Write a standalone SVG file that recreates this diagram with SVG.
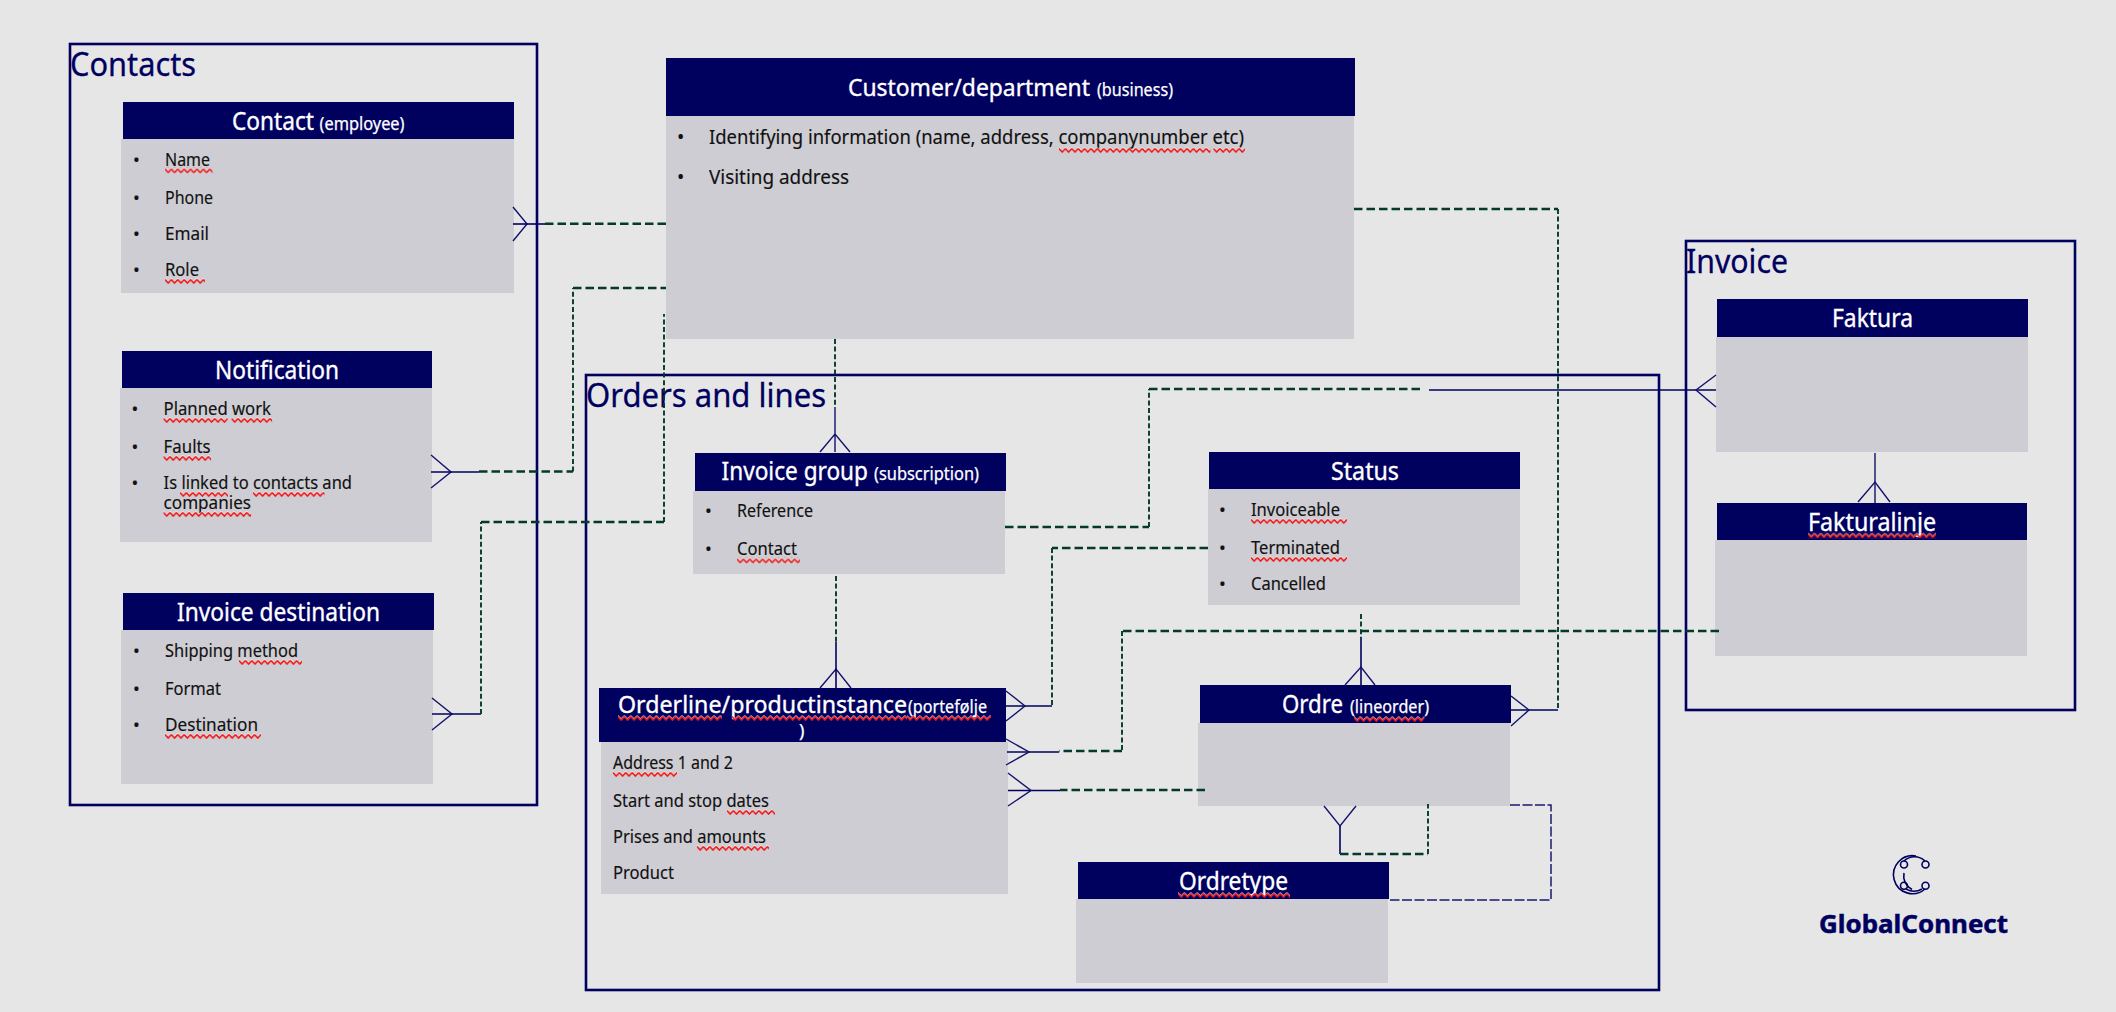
<svg xmlns="http://www.w3.org/2000/svg" width="2116" height="1012" viewBox="0 0 2116 1012">
<style>
text{font-family:"Noto Sans","Liberation Sans",sans-serif}
.frame{fill:none;stroke:#00005f;stroke-width:2.6}
.sec{font-size:33px;fill:#00005f;stroke:#00005f;stroke-width:.3}
.hd{fill:#00005f}
.bd{fill:#cdcdd3}
.h{font-size:25px;fill:#fff;stroke:#fff;stroke-width:.35}
.hn{font-size:23px;fill:#fff;stroke:#fff;stroke-width:.35}
.s{font-size:18px;fill:#fff;stroke:#fff;stroke-width:.25}
.t{font-size:18px;fill:#111;stroke:#111;stroke-width:.15}
.t2{font-size:19.5px;fill:#111;stroke:#111;stroke-width:.15}
.sq{fill:url(#squig)}
.cr{fill:none;stroke:#12126e;stroke-width:1.4}
.so{fill:none;stroke:#00005f;stroke-width:1.6}
.dh{fill:none;stroke:#033a2c;stroke-width:2.4;stroke-dasharray:8.5 4}
.dv{fill:none;stroke:#033a2c;stroke-width:1.9;stroke-dasharray:5 2.6}
.dn{fill:none;stroke:#1a1a70;stroke-width:1.5;stroke-dasharray:10 2.5}
.logo{fill:none;stroke:#00005f;stroke-width:1.6}
</style>
<defs>
<pattern id="squig" patternUnits="userSpaceOnUse" width="6.4" height="6">
<path d="M0 0.6L3.2 4L6.4 0.6" fill="none" stroke="#fff" stroke-width="1.1" opacity=".8"/>
<path d="M0 1.6L3.2 5L6.4 1.6" fill="none" stroke="#ee1c1c" stroke-width="1.7"/>
</pattern>
</defs>
<rect width="2116" height="1012" fill="#e6e6e6"/>

<g id="frame-contacts"><rect class="frame" x="70" y="44" width="467" height="761"/><text class="sec" x="70" y="75.5" textLength="126" lengthAdjust="spacingAndGlyphs">Contacts</text></g>
<g id="frame-orders"><rect class="frame" x="586" y="375" width="1073" height="615"/><text class="sec" x="586" y="406.5" textLength="240" lengthAdjust="spacingAndGlyphs">Orders and lines</text></g>
<g id="frame-invoice"><rect class="frame" x="1686" y="241" width="389" height="469"/><text class="sec" x="1686" y="273" textLength="102" lengthAdjust="spacingAndGlyphs">Invoice</text></g>

<g id="node-contact">
<rect class="bd" x="121" y="139" width="393" height="154"/><rect class="hd" x="123" y="102" width="391" height="37"/>
<text class="h" x="232" y="129.500" textLength="82" lengthAdjust="spacingAndGlyphs">Contact</text><text class="s" x="319.500" y="129.500" textLength="85" lengthAdjust="spacingAndGlyphs">(employee)</text>
<text class="t" x="133" y="165.500">•</text><text class="t" x="165" y="165.500" textLength="45" lengthAdjust="spacingAndGlyphs">Name</text>
<text class="t" x="133" y="204">•</text><text class="t" x="165" y="204" textLength="48" lengthAdjust="spacingAndGlyphs">Phone</text>
<text class="t" x="133" y="240">•</text><text class="t" x="165" y="240" textLength="44" lengthAdjust="spacingAndGlyphs">Email</text>
<text class="t" x="133" y="276">•</text><text class="t" x="165" y="276" textLength="34" lengthAdjust="spacingAndGlyphs">Role</text>
<rect class="sq" transform="translate(165,167.5)" width="47.5" height="6"/>
<rect class="sq" transform="translate(165,278)" width="40" height="6"/>
</g>

<g id="node-notification">
<rect class="bd" x="120" y="388" width="312" height="154"/><rect class="hd" x="122" y="351" width="310" height="37"/>
<text class="h" x="215" y="379" textLength="124" lengthAdjust="spacingAndGlyphs">Notification</text>
<text class="t" x="131.500" y="415">•</text><text class="t" x="163.600" y="415" textLength="107.400" lengthAdjust="spacingAndGlyphs">Planned work</text>
<text class="t" x="131.500" y="453">•</text><text class="t" x="163.600" y="453" textLength="47" lengthAdjust="spacingAndGlyphs">Faults</text>
<text class="t" x="131.500" y="489">•</text><text class="t" x="163.600" y="489" textLength="188.400" lengthAdjust="spacingAndGlyphs">Is linked to contacts and</text>
<text class="t" x="163.600" y="509" textLength="87.400" lengthAdjust="spacingAndGlyphs">companies</text>
<rect class="sq" transform="translate(163.600,417)" width="64" height="6"/>
<rect class="sq" transform="translate(231.600,417)" width="40.500" height="6"/>
<rect class="sq" transform="translate(163.600,455)" width="47.500" height="6"/>
<rect class="sq" transform="translate(180,491)" width="48" height="6"/>
<rect class="sq" transform="translate(253,491)" width="71.500" height="6"/>
<rect class="sq" transform="translate(163.600,511)" width="87.500" height="6"/>
</g>

<g id="node-invoice-destination">
<rect class="bd" x="121" y="630" width="312" height="154"/><rect class="hd" x="123" y="593" width="311" height="37"/>
<text class="h" x="177" y="621" textLength="203" lengthAdjust="spacingAndGlyphs">Invoice destination</text>
<text class="t" x="133" y="657">•</text><text class="t" x="165" y="657" textLength="133" lengthAdjust="spacingAndGlyphs">Shipping method</text>
<text class="t" x="133" y="695">•</text><text class="t" x="165" y="695" textLength="56" lengthAdjust="spacingAndGlyphs">Format</text>
<text class="t" x="133" y="731">•</text><text class="t" x="165" y="731" textLength="93" lengthAdjust="spacingAndGlyphs">Destination</text>
<rect class="sq" transform="translate(239,659)" width="63" height="6"/>
<rect class="sq" transform="translate(165,733)" width="96" height="6"/>
</g>

<g id="node-customer">
<rect class="bd" x="666" y="116" width="688" height="223"/><rect class="hd" x="666" y="58" width="689" height="58"/>
<text class="hn" x="848" y="96" textLength="242" lengthAdjust="spacingAndGlyphs">Customer/department</text><text class="s" x="1097" y="96" textLength="76" lengthAdjust="spacingAndGlyphs">(business)</text>
<text class="t2" x="677" y="144">•</text><text class="t2" x="709" y="144" textLength="535" lengthAdjust="spacingAndGlyphs">Identifying information (name, address, companynumber etc)</text>
<text class="t2" x="677" y="184">•</text><text class="t2" x="709" y="184" textLength="140" lengthAdjust="spacingAndGlyphs">Visiting address</text>
<rect class="sq" transform="translate(1059,147)" width="151.500" height="6"/>
<rect class="sq" transform="translate(1213.500,147)" width="31.500" height="6"/>
</g>

<g id="node-invoice-group">
<rect class="bd" x="693" y="491" width="312" height="83"/><rect class="hd" x="695" y="453" width="311" height="38"/>
<text class="h" x="721.500" y="480" textLength="146.500" lengthAdjust="spacingAndGlyphs">Invoice group</text><text class="s" x="874" y="480" textLength="105" lengthAdjust="spacingAndGlyphs">(subscription)</text>
<text class="t" x="705" y="517">•</text><text class="t" x="737" y="517" textLength="76" lengthAdjust="spacingAndGlyphs">Reference</text>
<text class="t" x="705" y="555">•</text><text class="t" x="737" y="555" textLength="60" lengthAdjust="spacingAndGlyphs">Contact</text>
<rect class="sq" transform="translate(737,557.500)" width="63" height="6"/>
</g>

<g id="node-status">
<rect class="bd" x="1208" y="489" width="312" height="116"/><rect class="hd" x="1209" y="452" width="311" height="37"/>
<text class="h" x="1331" y="479.500" textLength="68" lengthAdjust="spacingAndGlyphs">Status</text>
<text class="t" x="1219" y="516">•</text><text class="t" x="1251" y="516" textLength="89" lengthAdjust="spacingAndGlyphs">Invoiceable</text>
<text class="t" x="1219" y="554">•</text><text class="t" x="1251" y="554" textLength="89" lengthAdjust="spacingAndGlyphs">Terminated</text>
<text class="t" x="1219" y="590">•</text><text class="t" x="1251" y="590" textLength="75" lengthAdjust="spacingAndGlyphs">Cancelled</text>
<rect class="sq" transform="translate(1251,518)" width="96" height="6"/>
<rect class="sq" transform="translate(1251,556)" width="96" height="6"/>
</g>

<g id="node-orderline">
<rect class="bd" x="601" y="742" width="407" height="152"/><rect class="hd" x="599" y="688" width="407" height="54"/>
<text class="hn" x="618" y="713" textLength="289" lengthAdjust="spacingAndGlyphs">Orderline/productinstance</text><text class="s" x="908" y="713" textLength="79" lengthAdjust="spacingAndGlyphs">(portefølje</text>
<text class="s" x="799" y="737">)</text>
<text class="t" x="613" y="769" textLength="120" lengthAdjust="spacingAndGlyphs">Address 1 and 2</text>
<text class="t" x="613" y="807" textLength="156" lengthAdjust="spacingAndGlyphs">Start and stop dates</text>
<text class="t" x="613" y="843" textLength="153" lengthAdjust="spacingAndGlyphs">Prises and amounts</text>
<text class="t" x="613" y="879" textLength="61" lengthAdjust="spacingAndGlyphs">Product</text>
<rect class="sq" transform="translate(618,715)" width="104" height="6"/>
<rect class="sq" transform="translate(732,715)" width="175" height="6"/>
<rect class="sq" transform="translate(907,715)" width="84" height="6"/>
<rect class="sq" transform="translate(613,771)" width="64" height="6"/>
<rect class="sq" transform="translate(727,809)" width="48" height="6"/>
<rect class="sq" transform="translate(697,845)" width="72" height="6"/>
</g>

<g id="node-ordre">
<rect class="bd" x="1198" y="723" width="312" height="83"/><rect class="hd" x="1200" y="685" width="311" height="38"/>
<text class="h" x="1282" y="713" textLength="61" lengthAdjust="spacingAndGlyphs">Ordre</text><text class="s" x="1350" y="713" textLength="79" lengthAdjust="spacingAndGlyphs">(lineorder)</text>
<rect class="sq" transform="translate(1354,716)" width="70.500" height="6"/>
</g>

<g id="node-ordretype">
<rect class="bd" x="1076" y="899" width="312" height="84"/><rect class="hd" x="1078" y="862" width="311" height="37"/>
<text class="h" x="1179" y="890" textLength="109" lengthAdjust="spacingAndGlyphs">Ordretype</text>
<rect class="sq" transform="translate(1178,892)" width="112" height="6"/>
</g>

<g id="node-faktura">
<rect class="bd" x="1716" y="337" width="312" height="115"/><rect class="hd" x="1717" y="299" width="311" height="38"/>
<text class="h" x="1832" y="327" textLength="81" lengthAdjust="spacingAndGlyphs">Faktura</text>
</g>

<g id="node-fakturalinje">
<rect class="bd" x="1715" y="540" width="312" height="116"/><rect class="hd" x="1717" y="503" width="310" height="37"/>
<text class="h" x="1808" y="531" textLength="128" lengthAdjust="spacingAndGlyphs">Fakturalinje</text>
<rect class="sq" transform="translate(1808,532.500)" width="128" height="6"/>
</g>

<g id="connectors">
<g id="c-contact-customer"><path class="cr" d="M513 207L527 224L513 241"/><path class="so" d="M513 224H545"/><path class="dh" d="M545 223.700H666"/></g>
<g id="c-notification-customer"><path class="cr" d="M431 455L451 472L431 488"/><path class="so" d="M431 472H479"/><path class="dh" d="M479 471.500H573"/><path class="dv" d="M573 471.500V288"/><path class="dh" d="M573 288H666"/></g>
<g id="c-destination-customer"><path class="cr" d="M432 698L452 714L432 730"/><path class="so" d="M432 714H481"/><path class="dv" d="M481 714V522"/><path class="dh" d="M481 522H664"/><path class="dv" d="M664 522V314"/></g>
<g id="c-customer-invoicegroup"><path class="dv" d="M835 339V407"/><path class="cr" d="M820 452L835 434L850 452M835 407V452"/></g>
<g id="c-invoicegroup-orderline"><path class="dv" d="M836 576V642"/><path class="cr" d="M820 688L836 669L851 688"/><path class="so" d="M836 642V688"/></g>
<g id="c-invoicegroup-faktura"><path class="dh" d="M1005 527H1149"/><path class="dv" d="M1149 527V389"/><path class="dh" d="M1149 389H1424"/><path class="so" d="M1429 390H1716"/><path class="cr" d="M1716 375L1696 390L1716 407"/></g>
<g id="c-status-orderline"><path class="dh" d="M1208 548H1052"/><path class="dv" d="M1052 548V706"/><path class="so" d="M1052 706H1006"/><path class="cr" d="M1006 691L1025 706L1006 721"/></g>
<g id="c-fakturalinje-orderline"><path class="dh" d="M1719 631H1122"/><path class="dv" d="M1122 631V751"/><path class="dh" d="M1122 751H1059"/><path class="so" d="M1059 752H1007"/><path class="cr" d="M1006 739L1029 752L1006 765"/></g>
<g id="c-ordre-orderline"><path class="dh" d="M1205 790H1060"/><path class="so" d="M1060 790.500H1008"/><path class="cr" d="M1008 773L1031 790.500L1008 806"/></g>
<g id="c-status-ordre"><path class="dv" d="M1361 614V638"/><path class="so" d="M1361 638V685"/><path class="cr" d="M1345 685L1361 667L1375 685"/></g>
<g id="c-customer-ordre"><path class="dh" d="M1354 209H1558"/><path class="dv" d="M1558 209V710"/><path class="so" d="M1558 710H1511"/><path class="cr" d="M1511 696L1529 710L1511 726"/></g>
<g id="c-ordre-ordretype"><path class="cr" d="M1324 806L1340 826L1356 806"/><path class="so" d="M1340 826V854"/><path class="dh" d="M1340 854H1428"/><path class="dv" d="M1428 854V804"/></g>
<g id="c-ordre-ordretype-2"><path class="dn" d="M1510 805H1551V900H1390"/></g>
<g id="c-faktura-fakturalinje"><path class="so" d="M1875 453V503" style="stroke-width:1.3"/><path class="cr" d="M1858 502L1875 482L1890 502"/></g>
</g>

<g id="logo">
<path class="logo" d="M1916 856A19 19 0 1 0 1925 889"/>
<path class="logo" d="M1904 861A15 15 0 0 1 1925 861"/>
<path class="logo" d="M1904 873A15 15 0 0 0 1912 889.500M1906 889A16 16 0 0 0 1922 889"/>
<circle class="logo" cx="1904" cy="864.500" r="3.500"/><circle class="logo" cx="1925.500" cy="864.500" r="3.500"/><circle class="logo" cx="1904" cy="885.700" r="3.500"/><circle class="logo" cx="1925.500" cy="885.700" r="3.500"/>
<text x="1819" y="933" font-size="25" font-weight="700" fill="#00005f" stroke="#00005f" stroke-width=".5" textLength="189" lengthAdjust="spacingAndGlyphs">GlobalConnect</text>
</g>
</svg>
